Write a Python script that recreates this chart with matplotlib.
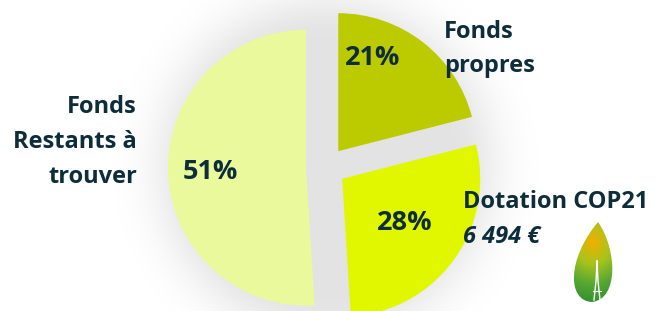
import numpy as np
import matplotlib.pyplot as plt
from matplotlib.path import Path
from matplotlib.patches import PathPatch
from matplotlib.colors import LinearSegmentedColormap

# Données (ordre horaire depuis le haut)
parts = ['Fonds propres', 'Dotation COP21', 'Fonds Restants à trouver']
values = [21, 28, 51]
colors = ['#BCCB00', '#E0F700', '#EAF99C']
dotation = '6 494 €'

plt.rcParams['font.family'] = ['Open Sans', 'DejaVu Sans']
txt_color = '#0E2D3B'

W, H = 658, 311
fig = plt.figure(figsize=(W / 100, H / 100), dpi=100)
ax = fig.add_axes([0, 0, 1, 1])

cx, cy, r = 326, 144, 138

# ombre floue autour du camembert
xx, yy = np.meshgrid(np.arange(W) + 0.5, np.arange(H) + 0.5)
d = np.hypot(xx - cx, yy - cy)
alpha = 0.11 * np.exp(-np.clip(d - 130, 0, None) ** 2 / (2 * 32 ** 2))
shadow = np.zeros((H, W, 4))
shadow[..., 3] = alpha
ax.imshow(shadow, extent=(0, W, 0, H), origin='lower', zorder=0, interpolation='bilinear')

wedges, _ = ax.pie(values, colors=colors, startangle=90, counterclock=False,
                   center=(cx, cy), radius=r, explode=[20, 20, 20],
                   wedgeprops=dict(linewidth=0), frame=True)
for w in wedges:
    w.set_zorder(2)

# pourcentages
pct_pos = [(373, 253), (405, 88), (210, 139)]
for v, (px, py) in zip(values, pct_pos):
    ax.text(px, py, f'{v}%', fontsize=19.5, fontweight='bold', color=txt_color,
            ha='center', va='center', zorder=5)

# étiquettes
fs = 17
ax.text(444, 273, 'Fonds', fontsize=fs, fontweight='bold', color=txt_color, va='baseline', zorder=5)
ax.text(444, 239, 'propres', fontsize=fs, fontweight='bold', color=txt_color, va='baseline', zorder=5)

ax.text(463, 103, 'Dotation COP21', fontsize=fs, fontweight='bold', color=txt_color, va='baseline', zorder=5)
ax.text(463, 68, dotation, fontsize=fs, fontweight='bold', style='italic', color=txt_color,
        va='baseline', zorder=5)

for line, yb in zip(['Fonds', 'Restants à', 'trouver'], [198, 163, 128]):
    ax.text(137, yb, line, fontsize=fs, fontweight='bold', color=txt_color,
            ha='right', va='baseline', zorder=5)

# logo feuille COP21
leaf = Path([(598, 89), (617, 62), (619, 12), (592, 9), (567, 10), (567, 52), (598, 89)],
            [Path.MOVETO, Path.CURVE4, Path.CURVE4, Path.CURVE4, Path.CURVE4, Path.CURVE4, Path.CURVE4])
patch = PathPatch(leaf, facecolor='none', edgecolor='none', zorder=3)
ax.add_patch(patch)
lx, ly = np.meshgrid(np.linspace(0, 1, 60), np.linspace(0, 1, 100))
gdist = np.hypot((lx - 0.5) * 0.8, ly - 0.74)
cmap = LinearSegmentedColormap.from_list('leaf', ['#F2B000', '#A8C41C', '#55A632', '#2B8C30'])
img = ax.imshow(gdist, cmap=cmap, extent=(566, 620, 9, 90), origin='lower', zorder=3,
                vmin=0, vmax=0.8, interpolation='bilinear')
img.set_clip_path(patch)
# tour Eiffel
ax.plot([597, 596, 594], [50, 30, 11], color='white', lw=1, zorder=4)
ax.plot([597, 598, 600], [50, 30, 11], color='white', lw=1, zorder=4)
ax.plot([593, 601], [20, 20], color='white', lw=0.8, zorder=4)

ax.set_xlim(0, W)
ax.set_ylim(0, H)
ax.set_aspect('equal')
ax.axis('off')

fig.savefig('out.png', dpi=100)
